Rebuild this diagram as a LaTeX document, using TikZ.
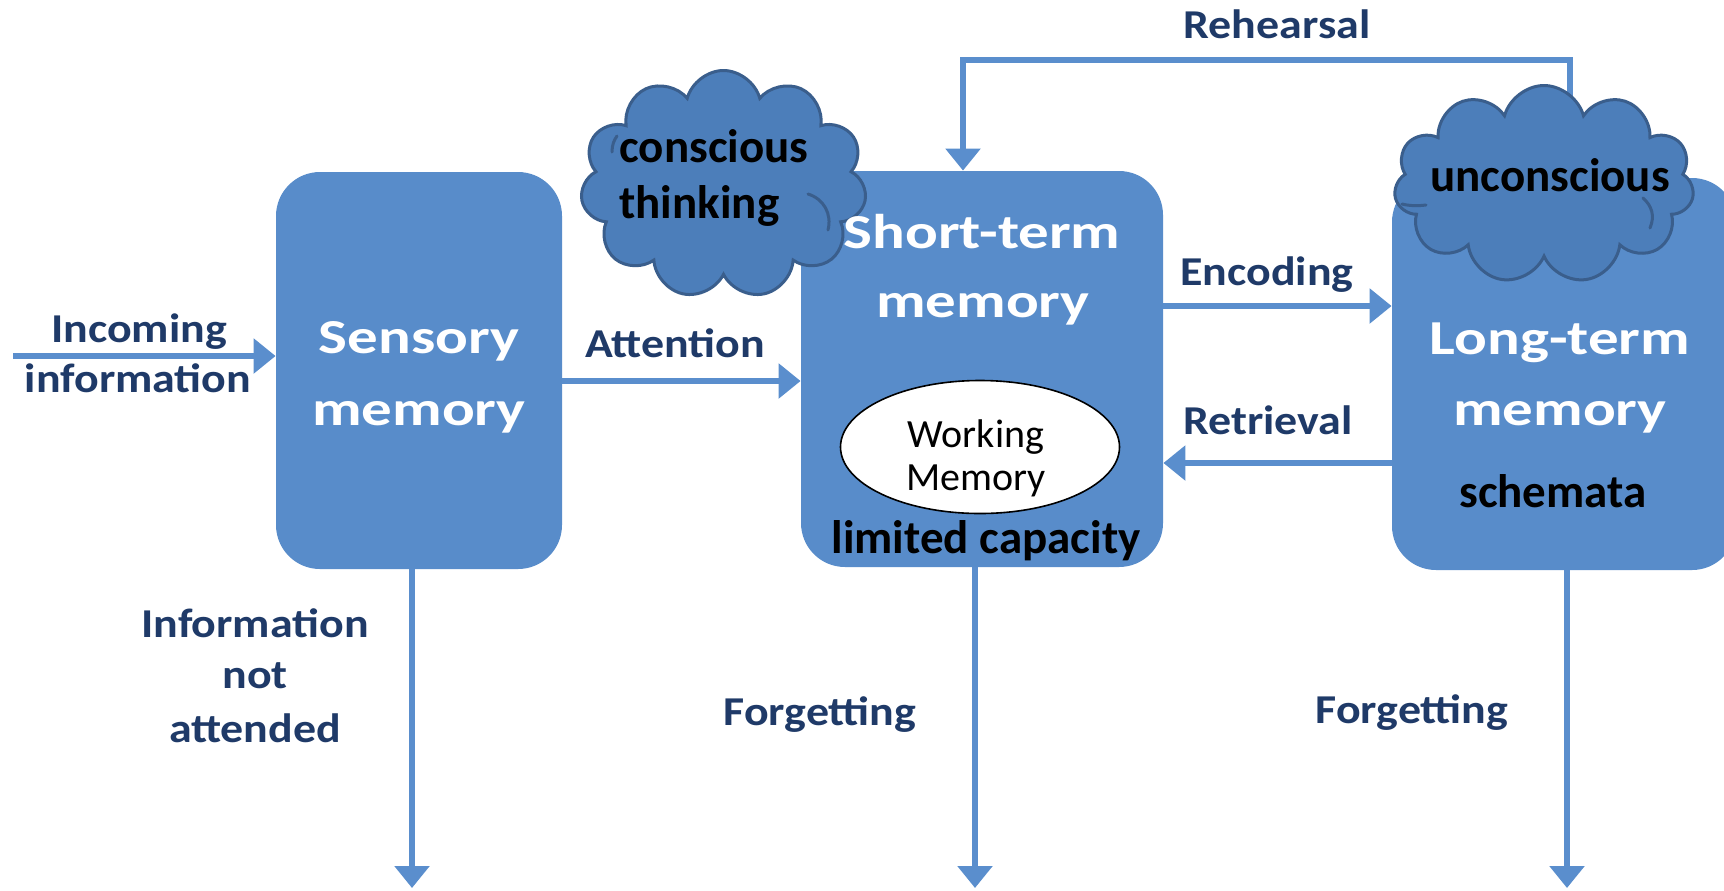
\documentclass[tikz,border=0pt]{standalone}
\usepackage{fontspec}
\setmainfont{Carlito}
\newfontfamily\titlefont[FakeStretch=1.25]{Carlito}
\newfontfamily\labelfont[FakeStretch=1.12]{Carlito}
\usetikzlibrary{shapes.geometric,shapes.symbols,arrows.meta}
\definecolor{boxblue}{RGB}{88,140,202}
\definecolor{cloudblue}{RGB}{76,126,186}
\definecolor{cloudedge}{RGB}{58,94,140}
\definecolor{lblue}{RGB}{31,58,104}
\definecolor{arrowblue}{RGB}{90,142,205}
\begin{document}
\begin{tikzpicture}[x=0.5pt,y=-0.5pt,
 membox/.style={draw=none, fill=boxblue, rounded corners=22pt, inner sep=0pt},
 titletext/.style={font=\titlefont\bfseries\fontsize{24.4}{30}\selectfont, text=white, anchor=base, inner sep=0pt},
 lbl/.style={font=\labelfont\bfseries\fontsize{20.5}{25}\selectfont, text=lblue, anchor=base, inner sep=0pt},
 blk/.style={font=\bfseries\fontsize{23.5}{28}\selectfont, text=black, anchor=base, inner sep=0pt},
 wmtext/.style={font=\fontsize{20}{24}\selectfont, text=black, anchor=base, inner sep=0pt},
 flow/.style={draw=arrowblue, line width=3pt, -{Triangle[length=11pt,width=17pt]}},
 thought/.style={cloud, cloud puffs=11, cloud ignores aspect, draw=cloudedge, line width=1.5pt, fill=cloudblue, inner sep=0pt},
 puffline/.style={draw=cloudedge, line width=1.5pt, line cap=round},
]
\path[use as bounding box, fill=white] (0,0) rectangle (1724,890);

% boxes
\node[membox, minimum width=143pt, minimum height=198.5pt] (sm) at (419,370.5) {};
\node[membox, minimum width=181pt, minimum height=198pt] (stm) at (982,369) {};
\node[membox, minimum width=172pt, minimum height=196pt] (ltm) at (1564,374) {};

% connectors
\coordinate (inc) at (13,356);
\draw[flow] (inc) -- (inc -| sm.west);
\coordinate (att) at (0,381);
\draw[flow] (att -| sm.east) -- (att -| stm.west);
\coordinate (enc) at (0,306);
\draw[flow] (enc -| stm.east) -- (enc -| ltm.west);
\coordinate (ret) at (0,463);
\draw[flow] (ret -| ltm.west) -- (ret -| stm.east);
\coordinate (rh1) at (1570,60);
\coordinate (rh2) at (963,60);
\draw[flow] (ltm.north -| rh1) -- (rh1) -- (rh2) -- (rh2 |- stm.north);
\coordinate (d1) at (412,888);
\coordinate (d2) at (975,888);
\coordinate (d3) at (1567,888);
\draw[flow] (d1 |- sm.south) -- (d1);
\draw[flow] (d2 |- stm.south) -- (d2);
\draw[flow] (d3 |- ltm.south) -- (d3);

% labels
\node[lbl] (incA) at (139,342) {Incoming};
\node[lbl] (incB) at (138,392) {information};
\node[lbl] (attL) at (675,357) {Attention};
\node[lbl] (encL) at (1267,285) {Encoding};
\node[lbl] (retL) at (1268,434) {Retrieval};
\node[lbl] (rehL) at (1277,38) {Rehearsal};
\node[lbl] (naA) at (255,637) {Information};
\node[lbl] (naB) at (255,688) {not};
\node[lbl] (naC) at (255,742) {attended};
\node[lbl] (fg1) at (820,725) {Forgetting};
\node[lbl] (fg2) at (1412,723) {Forgetting};

% working memory
\node[ellipse, draw=black, line width=0.8pt, fill=white, minimum width=139.5pt, minimum height=66.5pt, inner sep=0pt] (wm) at (980,447) {};
\node[wmtext] (wmA) at (976,447) {Working};
\node[wmtext] (wmB) at (976,490) {Memory};
\node[blk] (lim) at (986,553) {limited capacity};
\node[blk] (sch) at (1553,507) {schemata};

% clouds
\node[thought, minimum width=143pt, minimum height=114pt] (c1) at (723.5,184.5) {};
\draw[puffline] (808,194) .. controls (824,199) and (832,214) .. (828,230);
\draw[puffline] (612,152) .. controls (612,145) and (614,140) .. (617,136);
\node[blk, anchor=base west] (c1a) at (619,162) {conscious};
\node[blk, anchor=base west] (c1b) at (619,218) {thinking};
\node[thought, minimum width=150pt, minimum height=99pt] (c2) at (1544,184.5) {};
\draw[puffline] (1643,198) .. controls (1652,206) and (1655,216) .. (1650,228);
\draw[puffline] (1402,204) .. controls (1410,206) and (1418,206) .. (1426,205);
\node[blk] (c2a) at (1550,191) {unconscious};

% box titles
\node[titletext] (smA) at (419,353) {Sensory};
\node[titletext] (smB) at (419,425) {memory};
\node[titletext] (stmA) at (982,248) {Short-term};
\node[titletext] (stmB) at (983,317) {memory};
\node[titletext] (ltmA) at (1560,354) {Long-term};
\node[titletext] (ltmB) at (1560,425) {memory};
\end{tikzpicture}
\end{document}
